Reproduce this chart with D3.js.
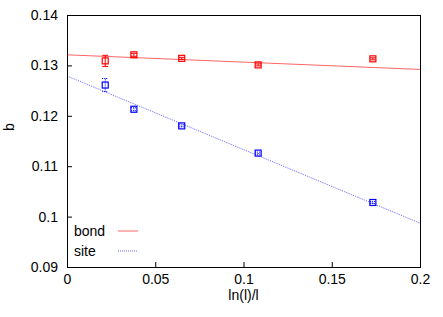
<!DOCTYPE html>
<html><head><meta charset="utf-8">
<script src="https://cdn.jsdelivr.net/npm/d3@7"></script>
<style>body{margin:0;background:#fff}svg{display:block}</style>
</head><body>
<script>
const xVals = [0.02166, 0.0379, 0.0650, 0.1083, 0.1733];
const bondVals = [0.1309, 0.1321, 0.1314, 0.1301, 0.1313];
const bondErr = [0.0011, 0.0003, 0.0002, 0.0002, 0.0002];
const siteVals = [0.1261, 0.1213, 0.1180, 0.1126, 0.1028];
const siteErr = [0.0013, 0.0003, 0.0002, 0.0002, 0.0002];
const bondFit = [[0, 0.1321], [0.2, 0.1292]];
const siteFit = [[0, 0.1279], [0.2, 0.0987]];
const xTicks = [0, 0.05, 0.1, 0.15, 0.2];
const xTickLabels = ["0", "0.05", "0.1", "0.15", "0.2"];
const yTicks = [0.09, 0.1, 0.11, 0.12, 0.13, 0.14];
const yTickLabels = ["0.09", "0.1", "0.11", "0.12", "0.13", "0.14"];

const W = 443, H = 317;
const m = {l: 67, r: 23, t: 15, b: 50};
const svg = d3.select("body").append("svg").attr("width", W).attr("height", H)
  .style("font-family", "'Liberation Sans', Arial, sans-serif");
const x = d3.scaleLinear().domain([0, 0.2]).range([m.l, W - m.r]);
const y = d3.scaleLinear().domain([0.09, 0.14]).range([H - m.b, m.t]);

const red = "#ff0000", blue = "#0000ff";

// axes
const xAxis = d3.axisBottom(x).tickValues(xTicks).tickFormat((d, i) => xTickLabels[i]).tickSizeInner(-5).tickSizeOuter(0).tickPadding(7);
const yAxis = d3.axisLeft(y).tickValues(yTicks).tickFormat((d, i) => yTickLabels[i]).tickSizeInner(-5).tickSizeOuter(0).tickPadding(9);
const gx = svg.append("g").attr("transform", `translate(0,${H - m.b})`).call(xAxis);
const gy = svg.append("g").attr("transform", `translate(${m.l},0)`).call(yAxis);
[gx, gy].forEach(g => {
  g.select(".domain").remove();
  g.selectAll("text").attr("font-size", 14).attr("fill", "#000").attr("font-family", "'Liberation Sans', Arial, sans-serif");
  g.selectAll("line").attr("stroke", "#000");
});

// frame
svg.append("rect").attr("x", x(0) + 0.5).attr("y", y(0.14) + 0.5)
  .attr("width", x(0.2) - x(0)).attr("height", y(0.09) - y(0.14))
  .attr("fill", "none").attr("stroke", "#000").attr("stroke-width", 1);

// fit lines
const line = d3.line().x(d => x(d[0])).y(d => y(d[1]));
svg.append("path").datum(bondFit).attr("d", line).attr("stroke", red).attr("stroke-opacity", 0.6).attr("fill", "none").attr("stroke-width", 1);
svg.append("path").datum(siteFit).attr("d", line).attr("stroke", blue).attr("stroke-opacity", 0.6).attr("fill", "none").attr("stroke-width", 1).attr("stroke-dasharray", "1,1");

function drawSeries(vals, errs, color, dash) {
  const g = svg.append("g");
  xVals.forEach((xv, i) => {
    const cx = x(xv), cy = y(vals[i]);
    g.append("line").attr("x1", cx).attr("x2", cx).attr("y1", y(vals[i] - errs[i])).attr("y2", y(vals[i] + errs[i]))
      .attr("stroke", color).attr("stroke-width", 1).attr("stroke-dasharray", dash);
    [vals[i] - errs[i], vals[i] + errs[i]].forEach(v => {
      g.append("line").attr("x1", cx - 3).attr("x2", cx + 3).attr("y1", y(v)).attr("y2", y(v))
        .attr("stroke", color).attr("stroke-width", 1).attr("stroke-dasharray", dash);
    });
    g.append("rect").attr("x", cx - 3).attr("y", cy - 3).attr("width", 6).attr("height", 6)
      .attr("fill", "none").attr("stroke", color).attr("stroke-width", 1.2);
  });
}
drawSeries(bondVals, bondErr, red, null);
drawSeries(siteVals, siteErr, blue, "1,1");

// legend
const legend = [{name: "bond", color: red, dash: null, yy: 231}, {name: "site", color: blue, dash: "1,1", yy: 251}];
legend.forEach(l => {
  svg.append("text").attr("x", 74).attr("y", l.yy + 5).attr("font-size", 14).text(l.name);
  svg.append("line").attr("x1", 118).attr("x2", 138).attr("y1", l.yy).attr("y2", l.yy)
    .attr("stroke", l.color).attr("stroke-opacity", 0.6).attr("stroke-dasharray", l.dash);
});

// axis labels
svg.append("text").attr("x", x(0.1)).attr("y", 300).attr("text-anchor", "middle").attr("font-size", 14).text("ln(l)/l");
svg.append("text").attr("transform", `translate(14,127) rotate(-90)`).attr("text-anchor", "middle").attr("font-size", 14).text("b");
</script>
</body></html>
